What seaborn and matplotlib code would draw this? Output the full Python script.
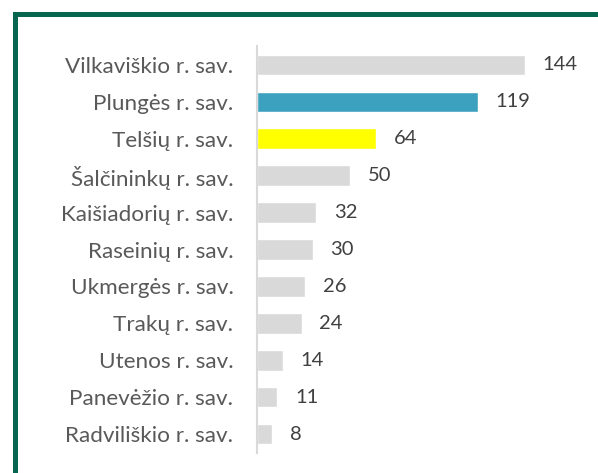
import matplotlib
matplotlib.use("Agg")
import matplotlib.pyplot as plt
import seaborn as sns
import pandas as pd
from matplotlib.lines import Line2D

categories = ["Vilkaviškio r. sav.", "Plungės r. sav.", "Telšių r. sav.",
              "Šalčininkų r. sav.", "Kaišiadorių r. sav.", "Raseinių r. sav.",
              "Ukmergės r. sav.", "Trakų r. sav.", "Utenos r. sav.",
              "Panevėžio r. sav.", "Radviliškio r. sav."]
values = [144, 119, 64, 50, 32, 30, 26, 24, 14, 11, 8]
bar_colors = ["#d9d9d9", "#3ca1bf", "#ffff00", "#d9d9d9", "#d9d9d9", "#d9d9d9",
              "#d9d9d9", "#d9d9d9", "#d9d9d9", "#d9d9d9", "#d9d9d9"]

df = pd.DataFrame({"sav": categories, "n": values})

sns.set_style("white")
plt.rcParams['font.family'] = ['Lato', 'DejaVu Sans']
text_col = "#595959"

fig = plt.figure(figsize=(5.98, 4.73), dpi=100)
ax = fig.add_axes([257 / 598, 1 - 452.5 / 473, 316 / 598, 406 / 473])

sns.barplot(data=df, x="n", y="sav", hue="sav", palette=bar_colors,
            legend=False, width=0.56, ax=ax, saturation=1)

ax.set_xlim(0, 170)
ax.set_ylim(10.5, -0.5)
ax.set_xlabel("")
ax.set_ylabel("")
ax.set_xticks([])
for s in ["top", "right", "bottom"]:
    ax.spines[s].set_visible(False)
ax.spines["left"].set_color("#d9d9d9")
ax.spines["left"].set_linewidth(1.5)
ax.tick_params(axis="y", length=0, pad=17, labelsize=16.2, labelcolor=text_col)

for i, v in enumerate(values):
    ax.text(v + 9.5, i, str(v), va="center", ha="left", fontsize=14.5,
            color="#404040")

# green frame (top and left edges visible)
green = "#07664f"
fig.add_artist(Line2D([15 / 598, 1], [1 - 14 / 473, 1 - 14 / 473],
                      color=green, lw=3.6, transform=fig.transFigure,
                      solid_capstyle="projecting"))
fig.add_artist(Line2D([15 / 598, 15 / 598], [0, 1 - 14 / 473],
                      color=green, lw=3.6, transform=fig.transFigure,
                      solid_capstyle="projecting"))

fig.savefig("out.png", dpi=100)
